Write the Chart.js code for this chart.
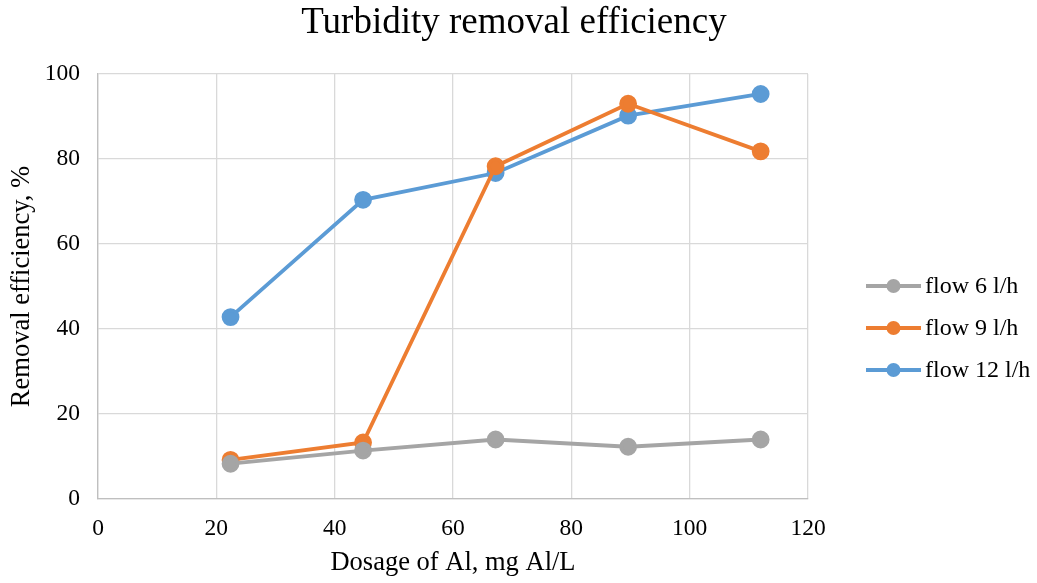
<!DOCTYPE html>
<html>
<head>
<meta charset="utf-8">
<title>Turbidity removal efficiency</title>
<script src="https://cdn.jsdelivr.net/npm/chart.js@4/dist/chart.umd.min.js"></script>
<style>
  html, body { margin: 0; padding: 0; background: #ffffff; }
  #wrap { width: 1037px; height: 583px; position: relative; }
</style>
</head>
<body>
<div id="wrap"><canvas id="chart" width="1037" height="583"></canvas></div>
<script>
// Aluminium dosage (mg Al/L)
const dosage = [22.4, 44.8, 67.2, 89.6, 112];
// Removal efficiency (%) per flow rate
const flow6 = [8.3, 11.4, 14.0, 12.3, 14.0];
const flow9 = [9.2, 13.3, 78.3, 93.0, 81.8];
const flow12 = [42.8, 70.4, 76.7, 90.2, 95.3];
const seriesNames = ['flow 6 l/h', 'flow 9 l/h', 'flow 12 l/h'];
const seriesColors = ['#a5a5a5', '#ed7d31', '#5b9bd5'];
const chartTitle = 'Turbidity removal efficiency';
const xTitle = 'Dosage of Al, mg Al/L';
const yTitle = 'Removal efficiency, %';

const FONT = '"Liberation Serif", "Times New Roman", serif';

function toPoints(ys) {
  return dosage.map((x, i) => ({ x: x, y: ys[i] }));
}

const datasets = [flow6, flow9, flow12].map((ys, i) => ({
  label: seriesNames[i],
  data: toPoints(ys),
  borderColor: seriesColors[i],
  backgroundColor: seriesColors[i],
  pointBackgroundColor: seriesColors[i],
  pointBorderColor: seriesColors[i],
  borderWidth: 3.8,
  pointRadius: 7,
  pointHoverRadius: 7,
  tension: 0,
  showLine: true
}));

// Title and right-hand legend drawn on the canvas
const decorations = {
  id: 'decorations',
  afterDraw(chart) {
    const ctx = chart.ctx;
    ctx.save();
    ctx.fillStyle = '#000000';
    ctx.font = '37px ' + FONT;
    ctx.textAlign = 'center';
    ctx.textBaseline = 'middle';
    ctx.fillText(chartTitle, 514, 23);

    const rows = [286, 328, 370];
    ctx.font = '24px ' + FONT;
    ctx.textAlign = 'left';
    chart.data.datasets.forEach((ds, i) => {
      const y = rows[i];
      ctx.strokeStyle = ds.borderColor;
      ctx.lineWidth = 3.8;
      ctx.beginPath();
      ctx.moveTo(866, y);
      ctx.lineTo(921, y);
      ctx.stroke();
      ctx.fillStyle = ds.borderColor;
      ctx.beginPath();
      ctx.arc(893.5, y, 7, 0, Math.PI * 2);
      ctx.fill();
      ctx.fillStyle = '#000000';
      ctx.fillText(ds.label, 925, y + 1);
    });
    ctx.restore();
  }
};

new Chart(document.getElementById('chart'), {
  type: 'scatter',
  data: { datasets: datasets },
  options: {
    responsive: false,
    animation: false,
    events: [],
    layout: { padding: { top: 74, right: 229, left: 0, bottom: 0 } },
    plugins: {
      legend: { display: false },
      title: { display: false },
      tooltip: { enabled: false }
    },
    scales: {
      x: {
        type: 'linear',
        min: 0,
        max: 120,
        afterFit(scale) { scale.height = 84; },
        ticks: {
          stepSize: 20,
          color: '#000000',
          padding: 16,
          maxRotation: 0,
          font: { family: FONT, size: 23.5 }
        },
        grid: { color: '#d9d9d9', lineWidth: 1.3, drawTicks: false },
        border: { color: '#bfbfbf', width: 1.3 },
        title: {
          display: true,
          text: xTitle,
          color: '#000000',
          font: { family: FONT, size: 26.5 },
          padding: { top: 0, bottom: 4 }
        }
      },
      y: {
        min: 0,
        max: 100,
        afterFit(scale) { scale.width = 98; },
        ticks: {
          stepSize: 20,
          color: '#000000',
          padding: 18,
          font: { family: FONT, size: 23.5 }
        },
        grid: { color: '#d9d9d9', lineWidth: 1.3, drawTicks: false },
        border: { color: '#bfbfbf', width: 1.3 },
        title: {
          display: true,
          text: yTitle,
          color: '#000000',
          font: { family: FONT, size: 26.5 },
          padding: { top: 6, bottom: 0 }
        }
      }
    }
  },
  plugins: [decorations]
});
</script>
</body>
</html>
